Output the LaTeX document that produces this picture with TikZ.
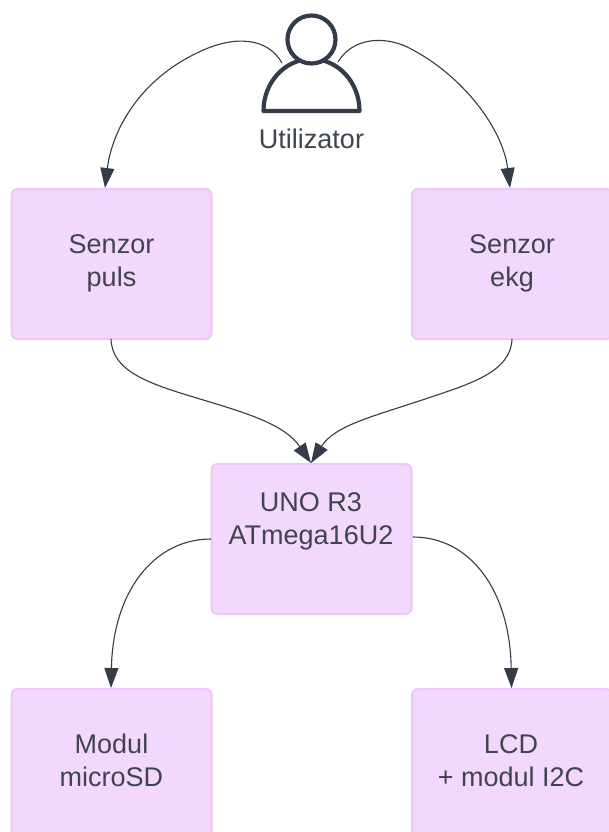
\documentclass[tikz,border=0pt]{standalone}
\usepackage{fontspec}
\setmainfont{Liberation Sans}
\usetikzlibrary{arrows.meta}
\definecolor{ink}{HTML}{333C48}
\definecolor{txt}{HTML}{3F454E}
\definecolor{boxfill}{HTML}{F3D8FD}
\definecolor{boxline}{HTML}{EFC6FB}
\tikzset{
  x=1pt,y=-1pt,
  box/.style={draw=boxline,fill=boxfill,line width=2pt,rounded corners=6pt,minimum width=200pt,minimum height=150pt,inner sep=0pt},
  edge/.style={draw=ink,line width=1.1pt,-{Triangle[length=20pt,width=14pt,fill=ink]}},
  person/.style={draw=ink,line width=4.2pt,fill=white,line join=round},
  lab/.style={inner sep=0pt,align=center,text=txt,font=\fontsize{27}{33}\selectfont}
}
\begin{document}
\begin{tikzpicture}
\useasboundingbox (0,0) rectangle (609,832);
\clip (0,0) rectangle (609,832);
\fill[white] (0,0) rectangle (609,832);
\node[box] (puls) at (111.5,264) {};
\node[box] (ekg) at (512,264) {};
\node[box] (uno) at (311.5,539) {};
\node[box] (sd) at (111.5,764) {};
\node[box] (lcd) at (512,764) {};
\node[lab] (pulsT) at (111.5,263) {Senzor\\puls};
\node[lab] (ekgT) at (512,263) {Senzor\\ekg};
\node[lab] (unoT) at (311,521) {UNO R3\\ATmega16U2};
\node[lab] (sdT) at (111.5,760.5) {Modul\\microSD};
\node[lab] (lcdT) at (511,760.5) {LCD\\+ modul I2C};
\node[lab] (user) at (311.5,139) {Utilizator};
\coordinate (userL) at (282,63);
\coordinate (userR) at (338,62);
\coordinate (pulsIn) at (105,188);
\coordinate (ekgIn) at (510,188);
\coordinate (unoIn) at (311,463);
\coordinate (sdIn) at (111,688);
\coordinate (lcdIn) at (511.5,688);
\coordinate (pulsOut) at (111,339);
\coordinate (ekgOut) at (512,339);
\coordinate (unoOutL) at (211,539);
\coordinate (unoOutR) at (413,537);
\draw[edge] (userL) .. controls (268,38) and (235,34) .. (197,53) .. controls (140,80) and (112,130) .. (pulsIn);
\draw[edge] (userR) .. controls (352,38) and (385,34) .. (413,50) .. controls (465,78) and (503,130) .. (ekgIn);
\draw[edge] (pulsOut) .. controls (112,372) and (150,384) .. (200,399) .. controls (250,414) and (285,425) .. (unoIn);
\draw[edge] (ekgOut) .. controls (511,372) and (470,384) .. (425,399) .. controls (375,416) and (335,425) .. (unoIn);
\draw[edge] (unoOutL) .. controls (155,539) and (113,590) .. (sdIn);
\draw[edge] (unoOutR) .. controls (470,537) and (510,590) .. (lcdIn);
\draw[person] (263.5,111) arc[start angle=180,end angle=360,x radius=48,y radius=52] -- cycle;
\draw[person] (311.5,39.5) circle[radius=24];
\end{tikzpicture}
\end{document}
